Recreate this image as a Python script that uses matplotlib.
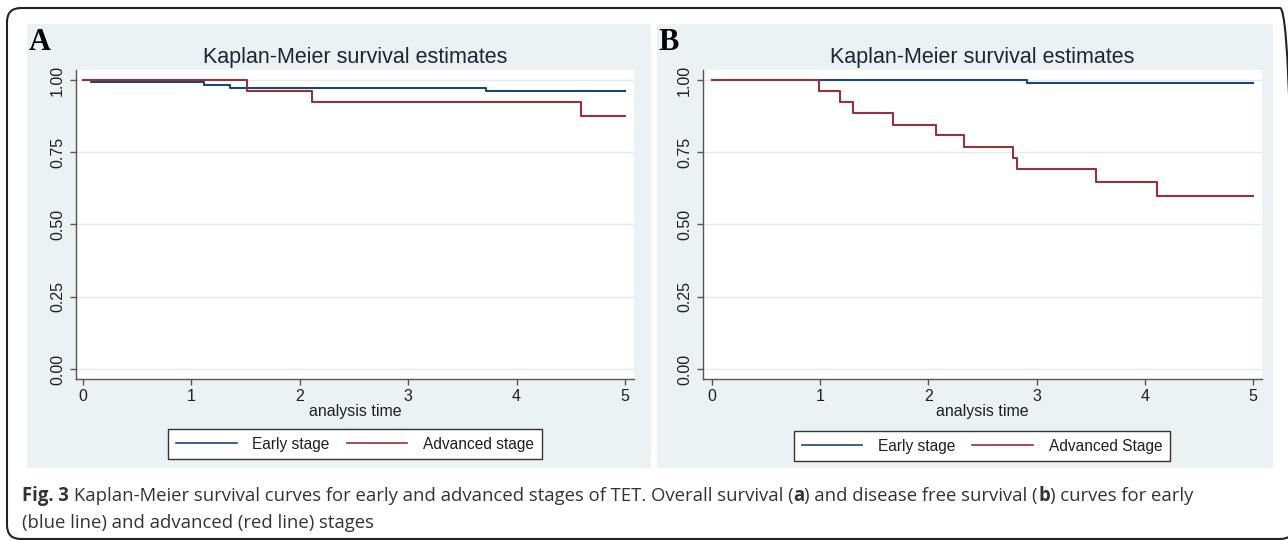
import matplotlib
matplotlib.use("Agg")
import matplotlib.pyplot as plt
import matplotlib.transforms as mtransforms
from matplotlib.patches import Rectangle, FancyBboxPatch
from matplotlib.lines import Line2D

# ---------------- data ----------------
a_early_t = [0.0, 0.07, 1.12, 1.36, 3.72, 5.0]
a_early_s = [1.0, 0.993, 0.981, 0.971, 0.962, 0.962]
a_adv_t = [0.0, 1.51, 2.11, 4.59, 5.0]
a_adv_s = [1.0, 0.963, 0.923, 0.876, 0.876]

b_early_t = [0.0, 2.91, 5.0]
b_early_s = [1.0, 0.990, 0.990]
b_adv_t = [0.0, 0.99, 1.18, 1.30, 1.67, 2.07, 2.33, 2.78, 2.82, 3.55, 4.11, 5.0]
b_adv_s = [1.0, 0.962, 0.923, 0.885, 0.846, 0.808, 0.769, 0.731, 0.692, 0.646, 0.600, 0.600]

x_ticks = [0, 1, 2, 3, 4, 5]
y_ticks = [0.0, 0.25, 0.5, 0.75, 1.0]
y_ticklabels = ["0.00", "0.25", "0.50", "0.75", "1.00"]

title_text = "Kaplan-Meier survival estimates"
xlabel_text = "analysis time"
a_labels = ["Early stage", "Advanced stage"]
b_labels = ["Early stage", "Advanced Stage"]

caption1 = [("Fig. 3", True), ("__SP__", False),
            ("Kaplan-Meier survival curves for early and advanced stages of TET. Overall survival (", False),
            ("a", True), (") and disease free survival (", False), ("b", True),
            (") curves for early", False)]
caption2 = [("(blue line) and advanced (red line) stages", False)]

# ---------------- style ----------------
plt.rcParams['font.family'] = ['Liberation Sans', 'DejaVu Sans']
NAVY = '#1a476f'
MAROON = '#90353b'
REGION = '#eaf2f3'
GRID = '#e2ebee'
AXC = '#555555'
TXT = '#1f1f1f'

W, H = 1288, 540
fig = plt.figure(figsize=(W / 100, H / 100), dpi=100)
fig.patch.set_facecolor('white')


def fx(x):
    return x / W


def fy(y):
    return 1 - y / H


# outer rounded border (pixel coords, origin bottom-left)
border = FancyBboxPatch((7, H - 539), 1294 - 7, 539 - 8,
                        boxstyle="round,pad=0,rounding_size=14",
                        transform=mtransforms.IdentityTransform(),
                        facecolor='none', edgecolor='#222222', linewidth=1.5, zorder=0)
fig.add_artist(border)

panels = [
    dict(bg=(27, 651), ax=(76, 634), xlim=(-0.065, 5.083), letter="A", letter_x=29,
         early=(a_early_t, a_early_s), adv=(a_adv_t, a_adv_s), labels=a_labels,
         leg=(355, 444)),
    dict(bg=(657, 1273), ax=(703, 1262), xlim=(-0.083, 5.083), letter="B", letter_x=658,
         early=(b_early_t, b_early_s), adv=(b_adv_t, b_adv_s), labels=b_labels,
         leg=(982, 446)),
]

for p in panels:
    x0, x1 = p['bg']
    fig.add_artist(Rectangle((fx(x0), fy(468)), (x1 - x0) / W, (468 - 24) / H,
                             transform=fig.transFigure, facecolor=REGION,
                             edgecolor='none', zorder=0))
    a0, a1 = p['ax']
    ax = fig.add_axes([fx(a0), fy(379), (a1 - a0) / W, (379 - 70) / H])
    ax.set_facecolor('white')
    et, es = p['early']
    rt, rs = p['adv']
    ax.step(et, es, where='post', color=NAVY, lw=1.5, zorder=3)
    ax.step(rt, rs, where='post', color=MAROON, lw=1.5, zorder=4)
    ax.set_xlim(*p['xlim'])
    ax.set_ylim(-0.0346, 1.0346)
    ax.set_xticks(x_ticks)
    ax.set_xticklabels([str(t) for t in x_ticks])
    ax.set_yticks(y_ticks)
    ax.set_yticklabels(y_ticklabels, rotation=90, va='center')
    ax.yaxis.grid(True, color=GRID, lw=1.0)
    ax.xaxis.grid(False)
    ax.set_axisbelow(True)
    for s in ['top', 'right']:
        ax.spines[s].set_visible(False)
    for s in ['left', 'bottom']:
        ax.spines[s].set_color(AXC)
        ax.spines[s].set_linewidth(1.0)
    ax.tick_params(axis='both', direction='out', length=4, width=1.0, color=AXC,
                   labelsize=11.5, labelcolor=TXT)
    ax.tick_params(axis='x', pad=3.5)
    ax.tick_params(axis='y', pad=4)

    cx = (a0 + a1) / 2
    fig.text(fx(cx), fy(63), title_text, ha='center', va='baseline',
             fontsize=15.5, color='#1c2636')
    fig.text(fx(cx), fy(416), xlabel_text, ha='center', va='baseline',
             fontsize=11.5, color=TXT)
    fig.text(fx(p['letter_x']), fy(50), p['letter'], ha='left', va='baseline',
             fontsize=22, fontweight='bold', family=['Liberation Serif', 'DejaVu Serif'],
             color='black')

    handles = [Line2D([], [], color=NAVY, lw=1.2), Line2D([], [], color=MAROON, lw=1.2)]
    lx, ly = p['leg']
    leg = ax.legend(handles, p['labels'], loc='center', bbox_to_anchor=(fx(lx), fy(ly)),
                    bbox_transform=fig.transFigure, ncol=2, frameon=True, fancybox=False,
                    edgecolor='#333333', framealpha=1, handlelength=3.9,
                    handletextpad=1.0, columnspacing=1.1, borderpad=0.5, fontsize=11.2,
                    borderaxespad=0)
    leg.get_frame().set_linewidth(1.0)
    for t in leg.get_texts():
        t.set_color(TXT)

# ---------------- caption ----------------
renderer = fig.canvas.get_renderer()
CAP_FAM = ['Open Sans', 'DejaVu Sans']
CAP_COL = '#333333'


def measure(txt, size, bold):
    t = fig.text(0, 0, txt, fontsize=size, fontweight='bold' if bold else 'normal',
                 family=CAP_FAM)
    w = t.get_window_extent(renderer=renderer).width
    t.remove()
    return w


def space_w(size):
    return measure("a a", size, False) - measure("aa", size, False)


def line_width(pieces, size):
    tot = 0
    for txt, bold in pieces:
        tot += space_w(size) if txt == "__SP__" else measure(txt, size, bold)
    return tot


base_size = 12
target = 1188 - 22
cap_size = base_size * target / line_width(caption1, base_size)


def draw_line(pieces, x_px, base_px, size):
    x = x_px
    for txt, bold in pieces:
        if txt == "__SP__":
            x += space_w(size)
            continue
        t = fig.text(fx(x), fy(base_px), txt, fontsize=size,
                     fontweight='bold' if bold else 'normal', family=CAP_FAM,
                     color=CAP_COL, ha='left', va='baseline')
        x += t.get_window_extent(renderer=renderer).width


draw_line(caption1, 22, 501, cap_size)
draw_line(caption2, 22, 528, cap_size)

fig.savefig("out.png", dpi=100, facecolor='white')
